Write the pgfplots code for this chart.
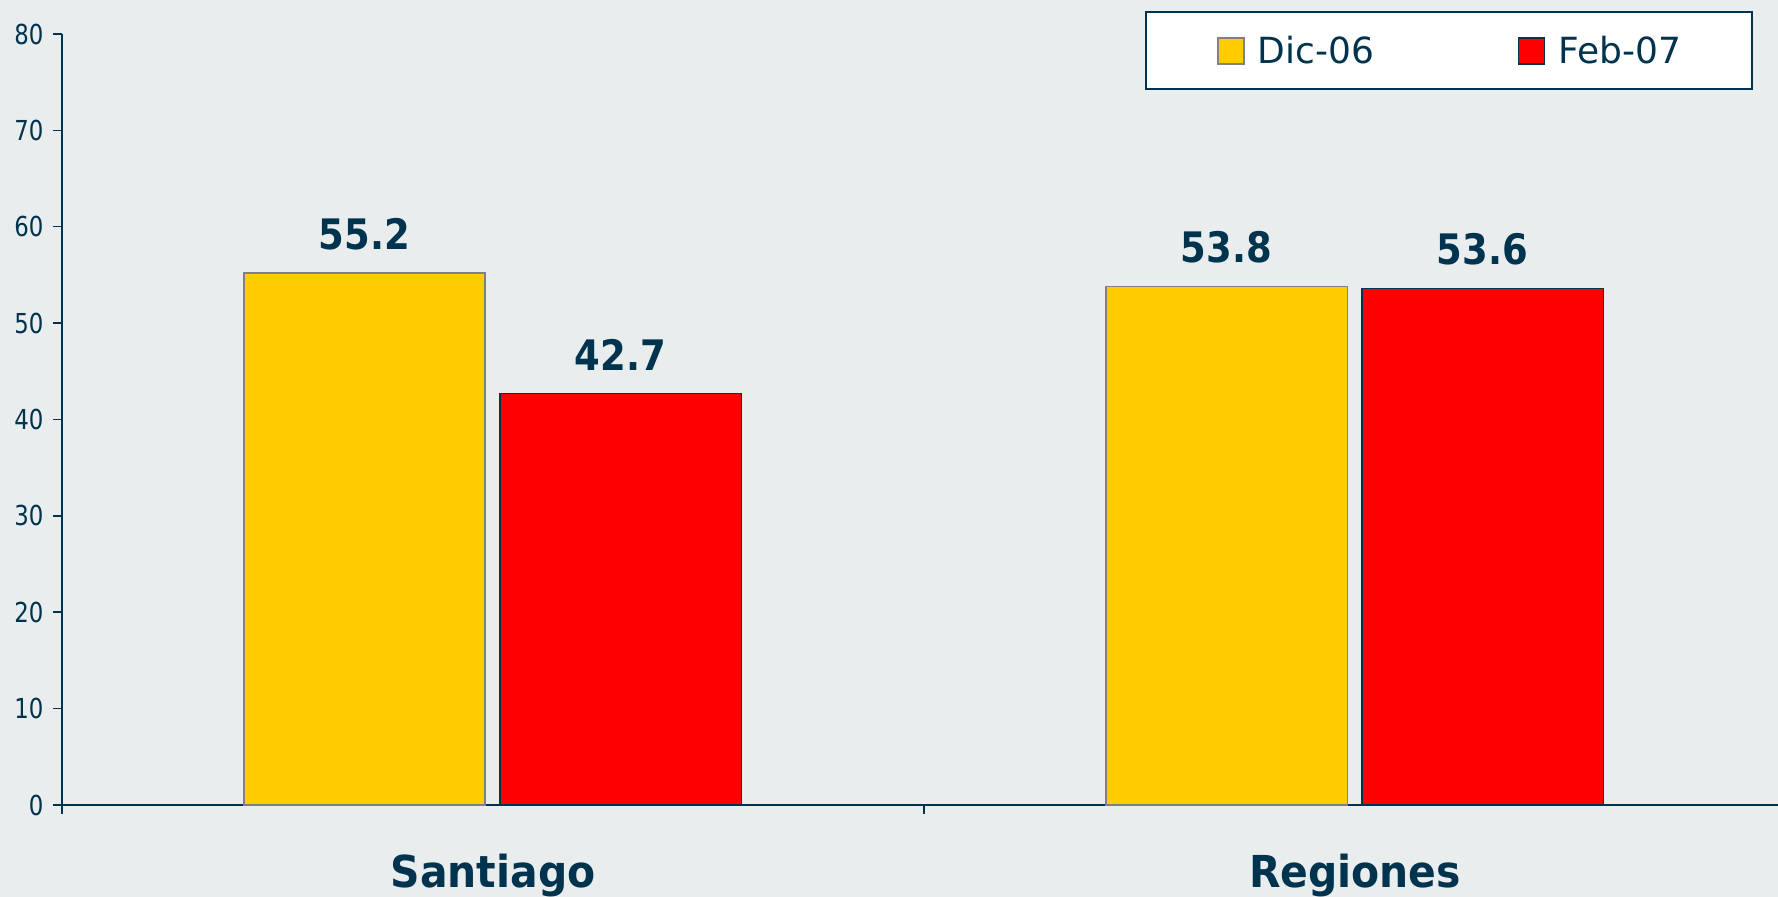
\documentclass[border=0pt]{standalone}
\usepackage{pgfplots}
\pgfplotsset{compat=1.18}
\usepackage{fontspec}
\setmainfont{DejaVu Sans}
\newfontfamily\tickfont[FakeStretch=0.83]{DejaVu Sans}
\newfontfamily\numfont[FakeStretch=0.88]{DejaVu Sans}
\newfontfamily\catfont[FakeStretch=0.93]{DejaVu Sans}

\definecolor{fondo}{HTML}{E9EDEE}
\definecolor{azul}{HTML}{00334D}
\definecolor{amarillo}{HTML}{FFCC00}
\definecolor{rojo}{HTML}{FF0000}
\definecolor{borde}{HTML}{808080}

\begin{document}
\begin{tikzpicture}
\fill[fondo] (0,0) rectangle (1778pt,897pt);
\useasboundingbox (0,0) rectangle (1778pt,897pt);
\begin{axis}[
  at={(62pt,92pt)}, anchor=south west,
  scale only axis, width=1716pt, height=771pt,
  xmin=-0.5, xmax=1.4907, ymin=0, ymax=80,
  clip=false,
  axis lines=left,
  axis line style={-, azul, line width=2pt},
  ytick={0,10,...,80},
  xtick={-0.5,0.5}, xticklabels={,,},
  tick style={azul, line width=1.5pt},
  tick align=outside,
  major tick length=9pt,
  /pgf/number format/assume math mode=true,
  yticklabel style={font=\tickfont\fontsize{27.5pt}{30pt}\selectfont, text=azul, xshift=-6pt},
  ybar, bar width=0.28,
  nodes near coords,
  every node near coord/.append style={font=\numfont\bfseries\fontsize{42pt}{46pt}\selectfont, text=azul, inner sep=0pt, yshift=22.5pt},
  legend image code/.code={\draw[#1, line width=1.5pt] (0pt,-13pt) rectangle (26pt,13pt);},
  legend columns=2,
  legend style={at={(0.9854,1.0294)}, anchor=north east,
    draw=azul, line width=2pt, fill=white,
    inner xsep=71pt, inner ysep=24pt,
    font=\fontsize{36pt}{40pt}\selectfont, text=azul,
    nodes={inner sep=0pt},
    /tikz/every odd column/.append style={column sep=13pt},
    /tikz/every even column/.append style={column sep=144pt}},
]
\addplot[fill=amarillo, draw=borde, line width=1.5pt, bar shift=-0.149]
  coordinates {(0,55.2) (1,53.8)};
\addplot[fill=rojo, draw=azul, line width=1.5pt, bar shift=0.148]
  coordinates {(0,42.7) (1,53.6)};
\legend{Dic-06, Feb-07}
\node[font=\catfont\bfseries\fontsize{44pt}{48pt}\selectfont, text=azul, anchor=base, yshift=-82pt] at (axis cs:0,0) {Santiago};
\node[font=\catfont\bfseries\fontsize{44pt}{48pt}\selectfont, text=azul, anchor=base, yshift=-82pt] at (axis cs:1,0) {Regiones};
\end{axis}
\end{tikzpicture}
\end{document}
